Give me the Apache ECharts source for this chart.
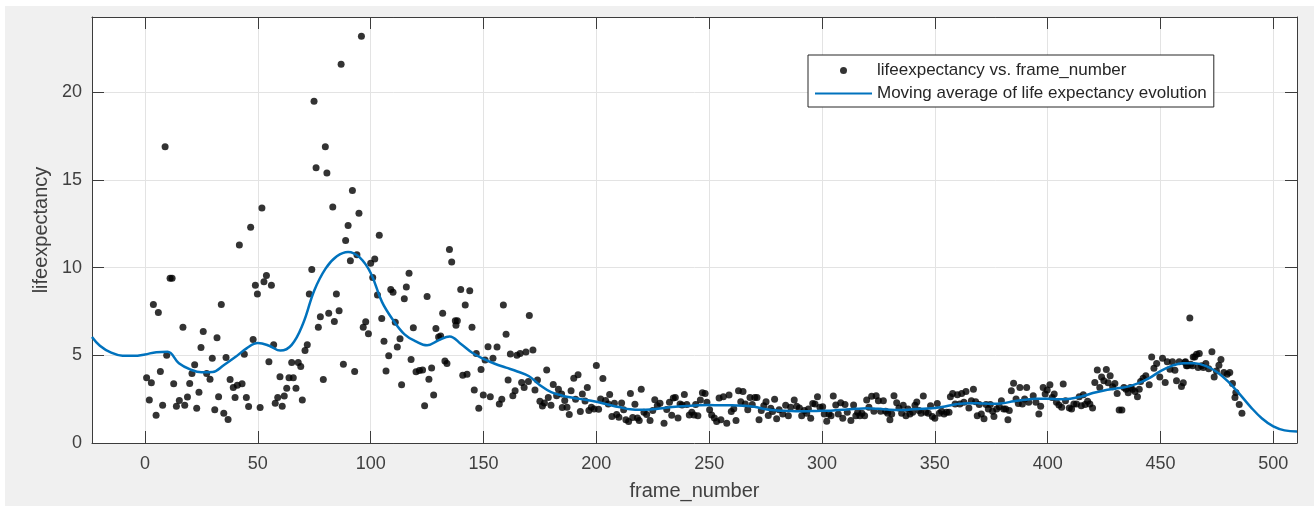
<!DOCTYPE html>
<html lang="en" style="height: 100%">
<head>
    <meta charset="UTF-8">
    <title>lifeexpectancy vs. frame_number</title>
    <script src="https://cdn.jsdelivr.net/npm/echarts@6.0.0/dist/echarts.min.js"></script>
</head>
<body style="margin: 0; background: #fff">
<div id="main" style="position: absolute; left: 5px; top: 6px; width: 1309px; height: 500px"></div>
<script>
    // axis ticks
    var xTicks = [0, 50, 100, 150, 200, 250, 300, 350, 400, 450, 500];
    var yTicks = [0, 5, 10, 15, 20];

    // scatter points [frame_number, lifeexpectancy]
    var ptsEarly = [
        [0.7,3.72],[1.9,2.45],[2.8,3.43],[3.7,7.9],[4.9,1.59],[5.9,7.45],[6.8,4.08],[7.8,2.15],[8.9,16.9],[9.6,5.0],
        [11.1,9.4],[12,9.4],[12.7,3.38],[13.9,2.1],[15.2,2.42],[16.8,6.6],[17.6,2.15],[18.8,2.62],[19.8,3.4],[20.8,3.96],
        [22,4.47],[22.9,1.98],[23.9,2.89],[24.8,5.45],[25.8,6.36],[27.3,3.96],[28.8,3.64],[29.8,4.83],[30.9,1.89],[31.9,6.0],
        [32.6,2.64],[33.8,7.9],[34.9,1.7],[35.9,4.87],[36.8,1.34],[37.7,3.62],[39.1,3.17],[39.9,2.59],[40.9,3.3],[41.8,11.3],
        [43,3.38],[44,5.06],[44.9,2.59],[45.9,2.08],[46.8,12.3],[47.9,5.9],[48.9,9.0],[49.8,8.5],[51,2.02],[51.8,13.4],
        [52.7,9.2],[53.8,9.55],[54.9,4.64],[56,9.0],[57,5.6],[57.7,2.27],[58.8,2.59],[59.8,3.78],[60.8,2.09],[61.7,2.68],
        [62.8,3.13],[63.8,3.72],[65,4.59],[65.7,3.72],[66.9,3.13],[67.9,4.59],[69,4.36],[69.7,2.45],[70.9,5.27],[71.9,5.6],
        [72.8,8.5],[73.9,9.9],[74.9,19.5],[75.8,15.7],[76.8,6.6],[77.7,7.2],[79,3.62],[79.9,16.9],[80.6,15.4],[81.4,7.4]
    ];
    var ptsPeak = [
        [83.2,13.46],[83.9,6.93],[84.8,8.5],[86,7.55],[86.9,21.6],[87.9,4.49],[88.9,11.55],[90,12.4],[91,10.4],[91.9,14.4],
        [92.9,4.08],[93.9,10.74],[94.8,13.1],[95.9,23.2],[96.7,6.6],[97.8,6.91],[99,6.23],[100,10.25],[100.9,9.44],[101.8,10.5],
        [103,8.44],[103.8,11.85],[104.9,7.1],[105.9,5.8],[106.8,4.1],[108,4.98],[108.9,8.75],[109.9,8.6],[110.9,6.89],[111.8,5.47],
        [113,5.95],[113.7,3.32],[114.9,8.23],[115.8,8.9],[117,9.68],[117.9,4.77],[118.9,6.57],[120.1,4.06],[121.6,4.13],[123,4.17],
        [123.9,2.13],[125,8.35],[125.8,3.64],[127,4.28],[127.9,2.74],[128.9,6.53],[130.1,6.04],[131,6.1],[131.9,7.4],[132.9,4.68],
        [133.8,4.53],[134.9,11.04],[135.9,10.32],[137.5,6.98],[137.8,6.72],[138.4,6.98],[139.9,8.76],[140.8,3.87],[141.9,7.87],[142.7,3.92],
        [143.9,8.68],[144.9,6.6],[145.9,3.02],[146.8,5.11],[147.9,1.98],[148.9,4.19],[149.9,2.74],[150.7,4.74],[152,5.49],[153,2.64],
        [154.2,4.83],[156,5.47],[157,2.23],[158.1,2.49],[158.8,7.87],[160,6.21],[160.9,3.6],[161.9,5.08],[163,2.7],[164,2.98],
        [164.8,5.0],[166.2,5.1],[166.9,3.45],[168,3.17],[168.8,5.19],[169.9,3.51],[170.3,7.27]
    ];
    var ptsMid = [
        [171.9,5.3],[172.8,3.02],[173.9,3.59],[175,2.38],[176.1,2.11],[177,2.28],[178,4.17],[178.7,2.6],[179.9,2.15],[180.9,3.34],
        [182.4,2.7],[183.2,3.07],[184.6,2.79],[184.9,2.02],[186,2.42],[187,2.04],[188,1.62],[188.8,2.98],[190,3.7],[190.8,2.49],
        [191.9,3.89],[192.9,1.79],[193.8,2.79],[195,2.4],[196,3.17],[196.7,1.85],[197.8,2.04],[199,1.94],[200,4.42],[201,1.93],
        [201.9,2.51],[202.9,3.68],[204.1,2.42],[205.3,2.23],[205.9,2.76],[206.9,1.51],[208,2.27],[209,1.62],[210,1.47],[211.2,2.28],
        [212.1,1.89],[213.1,1.32],[214.3,1.23],[215.1,2.83],[216.1,1.45],[217.1,2.21],[218.2,1.42],[219,1.28],[219.9,3.06],[221.1,1.76],
        [222.3,1.62],[223.8,1.28],[225,1.85],[225.9,2.47],[227,2.13],[228.2,2.27],[230,1.13],[231.2,1.91],[232.4,2.32],[233.4,1.59],
        [234.1,2.57],[235,2.6],[236.2,1.43],[237.1,2.23],[238,2.17],[239,2.76],[240.1,2.19],[241.2,1.6],[242.3,1.76],[243.3,1.6],
        [244,2.19],[245,1.55],[246.1,2.45],[247,2.87],[248.2,2.83],[249,2.32],[250.2,1.89],[251.1,1.6],[252.3,1.42],[253.3,1.23],
        [254.4,2.57],[255.2,1.32],[256.3,2.64],[257.8,1.13],[258.8,2.74],[259.8,1.79],[260.9,1.96],[261.9,1.28],[263,2.98],[264,2.36],
        [265,2.94],[266,2.23],[267.1,1.89],[268.1,2.6],[269.1,2.19],[270.2,2.6],[271.2,2.6],[272.1,1.32],[273.1,1.85],[274.2,2.13],
        [275.2,2.36],[276.2,1.57],[277.3,1.98],[278.1,1.79],[279,2.49],[279.9,1.38],[281,1.89]
    ];
    var ptsFlat = [
        [282.6,1.66],[283.9,2.15],[285.1,1.56],[286.1,2.04],[287.7,2.45],[288.8,2.09],[290,2.0],[291,1.56],[292.2,1.85],[293.2,1.7],
        [294,1.94],[295,1.41],[295.9,2.26],[296.9,2.23],[298,2.64],[299.1,2.04],[300.3,2.07],[301,1.66],[302.1,1.24],[303.1,1.66],
        [304,1.56],[305,2.68],[306.1,2.17],[307.2,1.66],[308.3,2.3],[309.2,1.41],[310.2,2.19],[311.2,1.75],[312.8,1.28],[314,2.17],
        [315,1.56],[315.8,1.75],[316.8,1.56],[317.7,1.7],[318.9,1.56],[319.8,2.45],[320.8,2.04],[322,2.66],[323,1.81],[324,2.7],
        [325,2.41],[326,1.81],[327.2,2.41],[328.2,1.81],[329.1,1.7],[330.1,1.32],[330.9,1.66],[331.9,2.7],[333.1,2.3],[334.1,2.0],
        [335.3,1.7],[336,2.15],[337.2,1.56],[338.1,1.94],[339,1.66],[340.2,1.75],[341.2,2.15],[342,2.34],[343,1.85],[343.9,1.7],
        [344.9,2.68],[346,1.75],[347.1,1.7],[348.1,2.13],[348.9,1.51],[350,1.41],[351.1,2.26],[352,1.7],[353,1.81],[354.1,1.66],
        [355.2,1.75],[356.3,1.75],[356.9,2.64],[357.9,2.83],[359,2.23],[360,2.75],[361.1,2.23],[361.9,2.83],[362.9,2.32],[363.8,2.94],
        [365.1,2.0],[366.2,2.41],[367.1,3.07],[368.1,2.36],[368.8,1.56],[369.7,2.19],[370.6,1.66],[371.8,1.38],[372.7,2.19],[373.7,1.94],
        [374.6,2.19],[375.6,1.81],[376.2,1.51],[377.4,1.94],[378.6,2.07],[379.5,2.41],[380.5,1.94],[381.4,1.94],[382.4,1.32],[383,1.85],
        [383.9,2.98],[384.9,3.41],[386,2.51],[387,2.26],[387.7,3.17],[388.8,2.23],[389.8,2.51],[390.7,3.17],[391.6,2.32]
    ];
    var ptsLate = [
        [393.6,2.7],[394.8,2.32],[396.1,1.66],[396.9,2.09],[398,3.17],[398.9,2.79],[399.8,3.02],[401,3.32],[402,2.6],[402.9,2.79],
        [403.9,2.32],[405,2.17],[406.2,2.04],[406.9,3.36],[407.9,2.41],[409.6,2.0],[410.6,1.94],[411.6,2.23],[412.8,2.23],[414,2.64],
        [414.9,2.13],[415.8,2.75],[416.6,2.19],[417.7,2.38],[418.7,2.23],[419.9,2.0],[420.9,3.45],[422,4.17],[423.1,3.17],[423.9,3.77],
        [424.9,3.55],[426,4.19],[426.8,3.43],[427.7,3.83],[428.8,3.21],[429.8,3.4],[430.8,2.83],[431.7,1.88],[432.9,1.88],[433.8,3.17],
        [434.7,3.07],[435.7,2.87],[436.7,3.17],[437.6,3.07],[438.7,2.94],[439.8,2.64],[440.6,3.07],[441.2,3.51],[442.3,3.7],[443.5,3.83],
        [445,3.32],[446.1,4.9],[447.1,4.26],[448.3,4.53],[449.7,3.77],[450.9,4.83],[452.1,3.45],[453,4.64],[454.2,4.2],[455.3,4.64],
        [456.4,4.15],[457.1,3.55],[458.3,4.64],[459.3,3.22],[460.1,3.43],[460.8,4.6],[461.1,4.64],[461.5,4.4],[462,4.4],[463,7.13],
        [463.4,4.49],[464.2,4.4],[464.5,4.9],[465.2,4.9],[466,5.06],[466.7,4.3],[467.2,5.1],[468.2,4.4],[469,4.3],[470.1,4.53],
        [471.4,4.24],[472.8,5.21],[473.8,3.77],[474.8,4.11],[475.9,4.43],[476.8,4.77],[478.1,4.02],[479.6,3.92],[480.7,4.02],[481.9,3.4],
        [483,2.6],[483.4,2.88],[484.9,2.19],[486.1,1.7]
    ];

    // moving average curve
    var maX = [-23.5, -20, -15, -10, -5, 0, 5, 10, 15, 20, 25, 30, 35, 40, 45, 50, 55, 60, 65, 70,
        75, 80, 85, 90, 95, 100, 105, 110, 115, 120, 125, 130, 135, 140, 145, 150, 155, 160, 165, 170,
        175, 180, 185, 190, 195, 200, 205, 210, 215, 220, 225, 230, 235, 240, 245, 250, 255, 260, 265, 270,
        275, 280, 285, 290, 295, 300, 305, 310, 315, 320, 325, 330, 335, 340, 345, 350, 355, 360, 365, 370,
        375, 380, 385, 390, 395, 400, 405, 410, 415, 420, 425, 430, 435, 440, 445, 450, 455, 460, 465, 470,
        475, 480, 485, 490, 495, 500, 505, 510.5];
    var maY = [6.05, 5.55, 5.15, 4.98, 4.97, 5.05, 5.18, 5.2, 4.55, 4.2, 4.03, 4.05, 4.45, 4.9, 5.4, 5.7, 5.55, 5.27, 5.6, 6.8,
        8.7, 9.95, 10.65, 10.9, 10.6, 9.7, 8.05, 7.0, 6.2, 5.8, 5.57, 5.85, 6.08, 5.65, 5.15, 4.8, 4.52, 4.3, 4.08, 3.82,
        3.3, 2.9, 2.7, 2.57, 2.47, 2.35, 2.2, 2.05, 1.92, 1.89, 1.93, 2.0, 2.07, 2.11, 2.15, 2.17, 2.15, 2.15, 2.13, 2.07,
        1.93, 1.86, 1.83, 1.81, 1.82, 1.84, 1.86, 1.9, 1.95, 1.98, 1.95, 1.9, 1.88, 1.92, 1.96, 2.0, 2.1, 2.22, 2.27, 2.26,
        2.24, 2.27, 2.38, 2.47, 2.52, 2.52, 2.5, 2.53, 2.65, 2.85, 3.0, 3.1, 3.2, 3.4, 3.7, 4.1, 4.4, 4.55, 4.55, 4.4,
        4.05, 3.5, 2.8, 2.05, 1.4, 0.95, 0.72, 0.66];

    var xMin = -23.5, xMax = 510.5, yMin = 0, yMax = 24.3;
    var fontFam = '"Liberation Sans", Arial, Helvetica, sans-serif';
    var axisColor = '#3c3c3c';

    var scatterData = ptsEarly.concat(ptsPeak, ptsMid, ptsFlat, ptsLate);
    var maData = maX.map(function (x, i) { return [x, maY[i]]; });

    function boxAxis(pos, isX, showLabel) {
        var ax = {
            type: 'value',
            position: pos,
            min: isX ? xMin : yMin,
            max: isX ? xMax : yMax,
            axisLine: {show: true, onZero: false, lineStyle: {color: axisColor, width: 1}},
            axisTick: {show: true, inside: true, length: 12, lineStyle: {color: axisColor}, customValues: isX ? xTicks : yTicks},
            axisLabel: {show: showLabel, customValues: isX ? xTicks : yTicks, fontSize: 18, color: '#404040',
                fontFamily: fontFam, margin: isX ? 12 : 10},
            splitLine: {show: showLabel, lineStyle: {color: '#e3e3e3', width: 1}}
        };
        return ax;
    }

    var xBottom = boxAxis('bottom', true, true);
    xBottom.name = 'frame_number';
    xBottom.nameLocation = 'middle';
    xBottom.nameGap = 38;
    xBottom.nameTextStyle = {fontSize: 20, color: '#404040', fontFamily: fontFam};

    var yLeft = boxAxis('left', false, true);
    yLeft.name = 'lifeexpectancy';
    yLeft.nameLocation = 'middle';
    yLeft.nameGap = 36;
    yLeft.nameTextStyle = {fontSize: 20, color: '#404040', fontFamily: fontFam};

    var myoption = {
        backgroundColor: '#f0f0f0',
        animation: false,
        grid: {
            left: 87,
            top: 11,
            right: 17,
            bottom: 60,
            show: true,
            backgroundColor: '#fff',
            borderWidth: 0
        },
        legend: {
            orient: 'vertical',
            left: 803,
            top: 49,
            padding: [7, 7, 5, 6],
            itemGap: 6,
            itemWidth: 57,
            itemHeight: 7,
            backgroundColor: '#fff',
            borderColor: '#262626',
            borderWidth: 1,
            borderRadius: 0,
            textStyle: {fontSize: 17, color: '#262626', fontFamily: fontFam},
            data: [
                {name: 'lifeexpectancy vs. frame_number'},
                {name: 'Moving average of life expectancy evolution', itemStyle: {opacity: 0}}
            ]
        },
        xAxis: [xBottom, boxAxis('top', true, false)],
        yAxis: [yLeft, boxAxis('right', false, false)],
        series: [{
            name: 'lifeexpectancy vs. frame_number',
            type: 'scatter',
            symbol: 'circle',
            symbolSize: 7,
            itemStyle: {color: '#000'},
            data: scatterData
        }, {
            name: 'Moving average of life expectancy evolution',
            type: 'line',
            smooth: 0.4,
            symbol: 'none',
            lineStyle: {color: '#0072BD', width: 2.5},
            itemStyle: {color: '#0072BD'},
            data: maData
        }]
    };
    var myChart = echarts.init(document.getElementById('main'));
    myChart.setOption(myoption);
</script>
</body>
</html>
